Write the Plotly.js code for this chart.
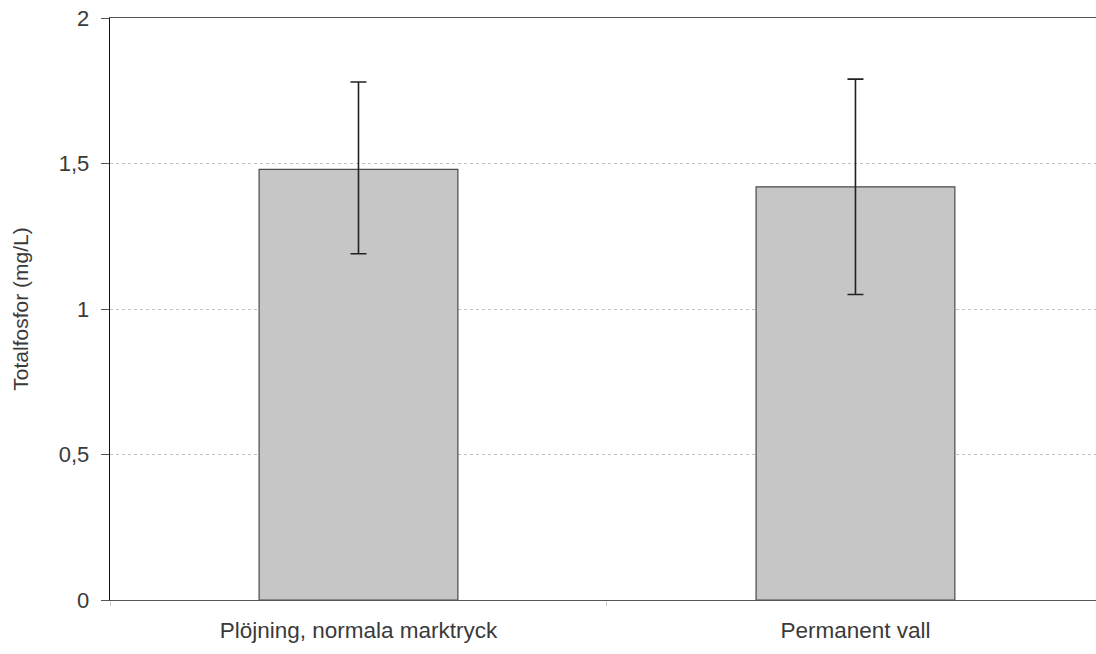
<!DOCTYPE html>
<html>
<head>
<meta charset="utf-8">
<script src="https://cdn.plot.ly/plotly-3.0.1.min.js"></script>
<style>html,body{margin:0;padding:0;background:#fff;}</style>
</head>
<body>
<div id="chart" style="width:1096px;height:654px;"></div>
<script>
const categories = ["Plöjning, normala marktryck", "Permanent vall"];
const values = [1.48, 1.42];
const errPlus = [0.30, 0.37];
const errMinus = [0.29, 0.37];
const yTickVals = [0, 0.5, 1, 1.5, 2];
const yTickText = ["0", "0,5", "1", "1,5", "2"];
const yTitle = "Totalfosfor (mg/L)";

const font = {family: "Liberation Sans, Arial, sans-serif", size: 21, color: "#3a3a3a"};
const xFont = {family: "Liberation Sans, Arial, sans-serif", size: 22.5, color: "#3a3a3a"};
const tickFont = {family: "Liberation Sans, Arial, sans-serif", size: 22, color: "#3a3a3a"};

const trace = {
  type: "bar",
  x: categories,
  y: values,
  width: 0.4,
  marker: {
    color: "#c6c6c6",
    line: {color: "#4a4a4a", width: 1.2}
  },
  error_y: {
    type: "data", symmetric: false,
    array: errPlus, arrayminus: errMinus,
    color: "#222", thickness: 1.6, width: 8
  },
  hoverinfo: "none"
};

const layout = {
  width: 1096, height: 654,
  margin: {l: 110, r: 0, t: 18, b: 54},
  paper_bgcolor: "#fff", plot_bgcolor: "#fff",
  font: font,
  showlegend: false,
  xaxis: {
    type: "category",
    range: [-0.5, 1.484],
    showgrid: false,
    zeroline: false,
    showline: true, linecolor: "#555", linewidth: 1.2, mirror: true,
    ticks: "outside", tickson: "boundaries", ticklen: 5, tickcolor: "#cfcfcf", tickwidth: 1,
    ticklabelstandoff: 10,
    tickfont: xFont
  },
  yaxis: {
    range: [0, 2],
    tickvals: yTickVals, ticktext: yTickText,
    showgrid: true, gridcolor: "#c2c2c2", gridwidth: 1, griddash: "dot",
    zeroline: false,
    showline: true, linecolor: "#111", linewidth: 1.3,
    ticks: "outside", ticklen: 8, tickcolor: "#555",
    ticklabelstandoff: 7,
    tickfont: tickFont,
    title: {text: yTitle, font: font, standoff: 24}
  }
};

Plotly.newPlot("chart", [trace], layout, {displayModeBar: false, staticPlot: true});
</script>
</body>
</html>
